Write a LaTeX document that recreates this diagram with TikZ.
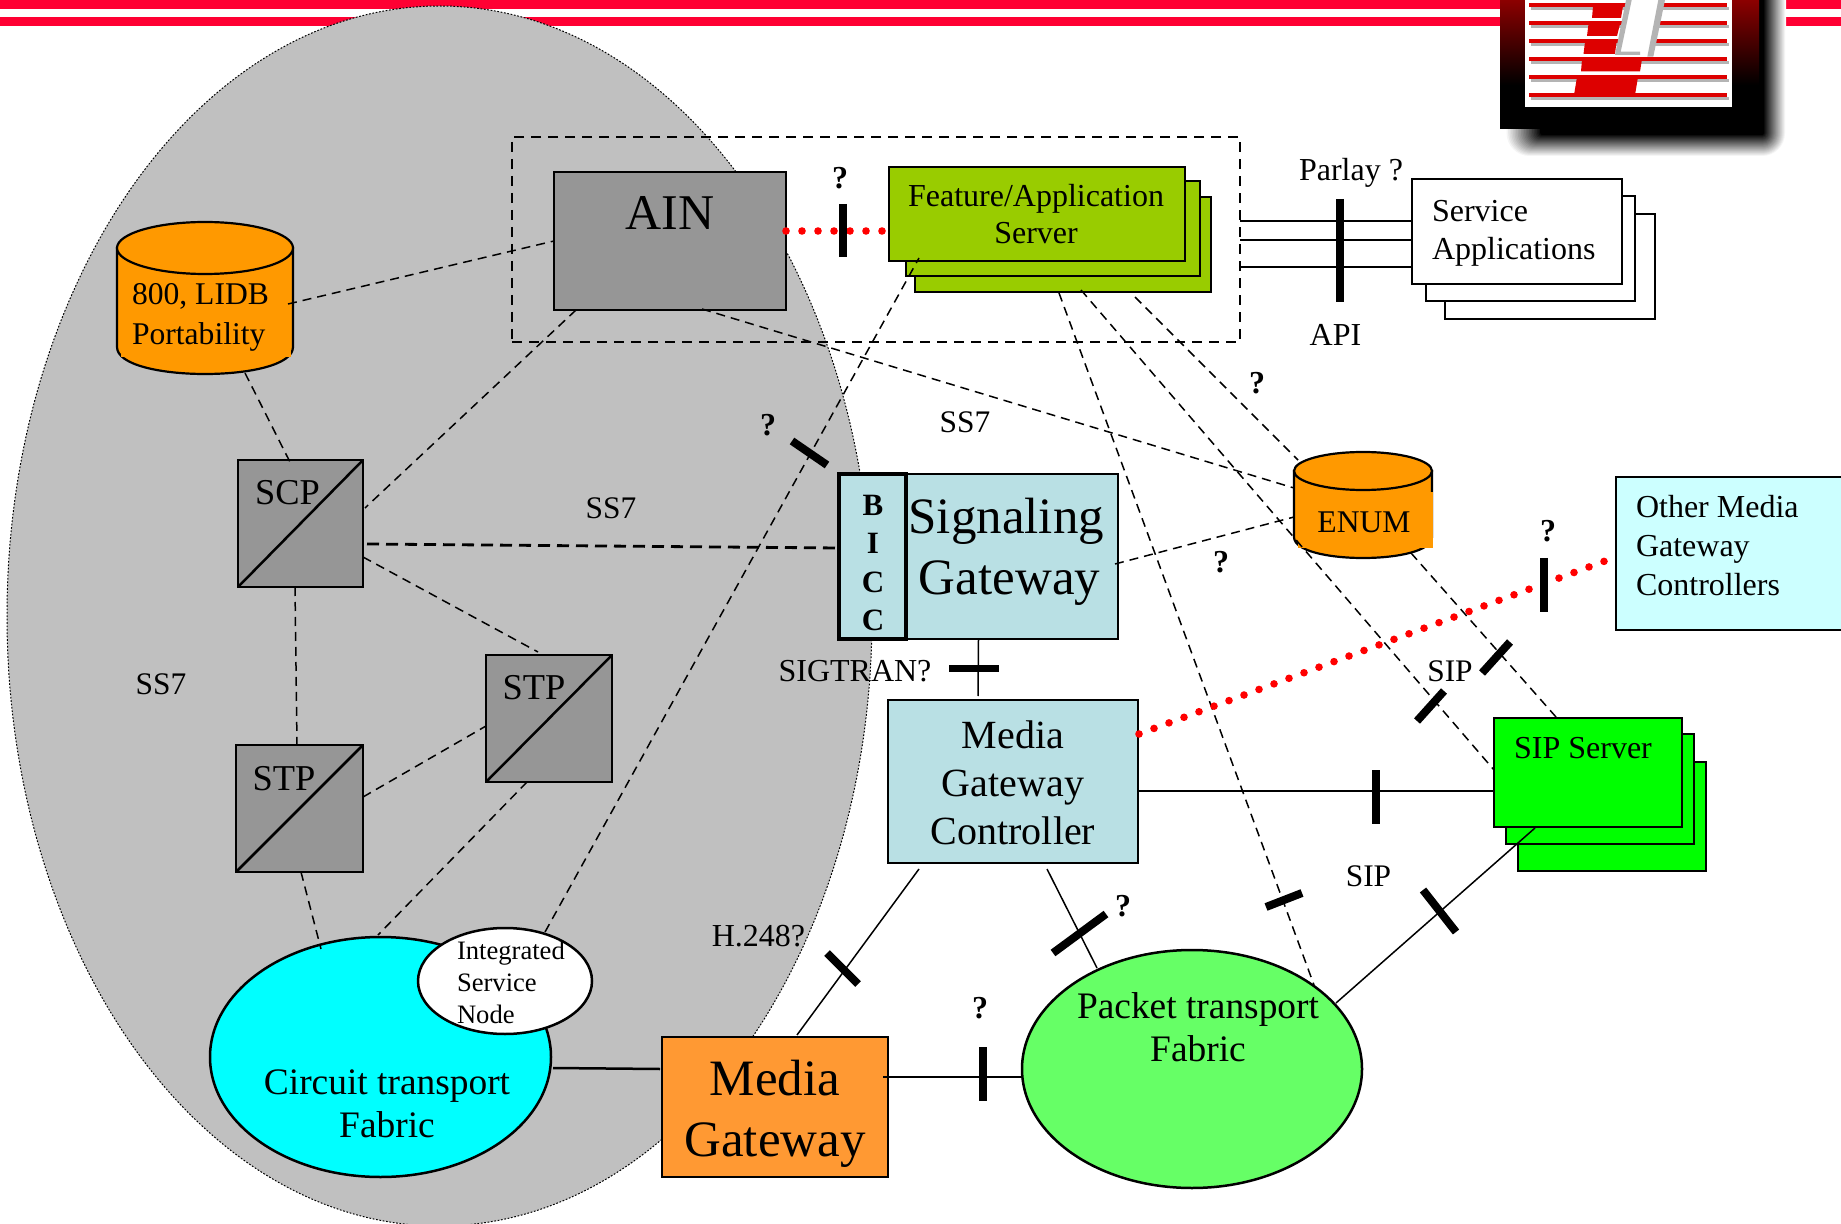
\documentclass[tikz,border=0pt]{standalone}
\usepackage{fontspec}
\setmainfont{Liberation Serif}
\usetikzlibrary{calc,shapes.geometric}
\definecolor{barred}{HTML}{FF0033}
\definecolor{logored}{HTML}{DD0000}
\definecolor{logogrey}{HTML}{B4B4B4}
\definecolor{logodark}{HTML}{8C0000}
\definecolor{cloud}{HTML}{C0C0C0}
\definecolor{ssgrey}{HTML}{969696}
\definecolor{fasgreen}{HTML}{99CC00}
\definecolor{sgblue}{HTML}{B9E0E4}
\definecolor{dborange}{HTML}{FF9900}
\definecolor{mgorange}{HTML}{FF9933}
\definecolor{pktgreen}{HTML}{66FF66}
\definecolor{othercyan}{HTML}{CCFFFF}
\definecolor{purecyan}{HTML}{00FFFF}
\definecolor{puregreen}{HTML}{00FF00}
\definecolor{purered}{HTML}{FF0000}
\tikzset{
  sz/.style n args={2}{minimum width=#1*0.5pt,minimum height=#2*0.5pt,inner sep=0pt,outer sep=0pt},
  boxed/.style={draw=black,line width=1.25pt},
  txt/.style={inner sep=0pt,outer sep=0pt,align=center,text=black},
  txtl/.style={inner sep=0pt,outer sep=0pt,align=left,text=black},
  dl/.style={draw=black,line width=0.75pt,dash pattern=on 4.5pt off 3pt},
  dlthick/.style={draw=black,line width=1.4pt,dash pattern=on 6pt off 3.5pt},
  sl/.style={draw=black,line width=0.75pt},
  slthick/.style={draw=black,line width=1.25pt},
  reddots/.style={draw=purered,line width=3.8pt,line cap=round,dash pattern=on 0pt off 8pt},
  tickbar/.style={draw=black,line width=4pt},
}
\newcommand{\fsz}[2]{\fontsize{#1}{#2}\selectfont}
\begin{document}
\begin{tikzpicture}[x=0.5pt,y=-0.5pt]
\useasboundingbox (0,0) rectangle (1841,1224);
\fill[white] (0,0) rectangle (1841,1224);
% top bars
\fill[barred] (0,0) rectangle (1500,8.7);
\fill[barred] (0,17) rectangle (1500,26);
\fill[barred] (1786,0) rectangle (1841,8.7);
\fill[barred] (1786,17) rectangle (1841,26);
% logo shadow
\foreach \t in {0,...,22}{
  \pgfmathtruncatemacro{\p}{\t*100/22}
  \pgfmathsetmacro{\xa}{1505+\t*1.6}
  \pgfmathsetmacro{\xb}{1786-\t}
  \pgfmathsetmacro{\yb}{157-\t}
  \pgfmathsetmacro{\rr}{(24-\t)*0.5}
  \fill[black!\p!white,rounded corners=\rr pt] (\xa,-40) rectangle (\xb,\yb);
}
% logo
\fill[black] (1500,85) rectangle (1759,129);
\shade[top color=logodark,bottom color=black] (1500,0) rectangle (1759,85);
\fill[white] (1525,0) rectangle (1732,107);
\foreach \y in {5,23,41,59,77,95}{
  \fill[logogrey] (1531,\y+1.6) rectangle (1729,\y+5);
  \fill[logored] (1529,\y-1.6) rectangle (1727,\y+1.6);
}
\fill[logored] (1593,6) -- (1623,6) -- (1621,18) -- (1592,18) -- cycle;
\fill[logored] (1588.5,24) -- (1620,24) -- (1617,36) -- (1587,36) -- cycle;
\fill[logored] (1585,42) -- (1616.5,42) -- (1615,54) -- (1583.5,54) -- cycle;
\fill[logored] (1582,59) -- (1642,59) -- (1640,71.5) -- (1581,71.5) -- cycle;
\fill[logored] (1577,77) -- (1638,77) -- (1635,95) -- (1574,95) -- cycle;
\fill[white] (1629,0) -- (1662,0) -- (1650,57) -- (1617,57) -- cycle;
\fill[logogrey] (1626,0) -- (1631.7,0) -- (1620.7,51.7) -- (1640,51.7) -- (1640,55) -- (1615,55) -- cycle;
\fill[logogrey] (1658.3,0) -- (1665,0) -- (1653.3,56.7) -- (1647.3,56.7) -- cycle;
% grey domain
\node[ellipse,sz={865}{1220},fill=cloud,draw=black,line width=0.5pt,dash pattern=on 0.85pt off 0.85pt] (domain) at (439.5,616) {};
% dashed enclosure
\node[sz={728}{205},draw=black,line width=1pt,dash pattern=on 5pt off 3.5pt] (encl) at (876,239.5) {};
% databases
\node[sz={176}{153}] (lidb) at (205,298.5) {};
\filldraw[fill=dborange,draw=black,line width=1.1pt] (117,248) -- (117,347) .. controls (117,383) and (293,383) .. (293,347) -- (293,248) -- cycle;
\fill[dborange] (121,340) rectangle (291,357);
\filldraw[fill=dborange,draw=black,line width=1.1pt] (lidb.center |- 0,248) ellipse [x radius=88,y radius=26];
\node[sz={138}{106}] (enum) at (1363,505) {};
\filldraw[fill=dborange,draw=black,line width=1.1pt] (1294,471) -- (1294,537) .. controls (1294,565) and (1432,565) .. (1432,537) -- (1432,471) -- cycle;
\filldraw[fill=dborange,draw=black,line width=1.1pt] (enum.center |- 0,471) ellipse [x radius=69,y radius=19];
\fill[dborange] (1298,492) rectangle (1433,548);
% boxes
\node[sz={232}{138},boxed,fill=ssgrey] (ain) at (670,241) {};
\node[sz={296}{95},boxed,fill=fasgreen] (fas3) at (1063,244.5) {};
\node[sz={294}{95},boxed,fill=fasgreen] (fas2) at (1053,228.5) {};
\node[sz={296}{94},boxed,fill=fasgreen] (fas1) at (1037,214) {};
\node[sz={279}{165},boxed,fill=sgblue] (sg) at (978.5,556.5) {};
\node[sz={67}{165},draw=black,line width=1.6pt,fill=sgblue] (bicc) at (872.5,556.5) {};
\node[sz={250}{163},boxed,fill=sgblue] (mgc) at (1013,781.5) {};
\node[sz={226}{140},boxed,fill=mgorange] (mg) at (775,1107) {};
\node[sz={125}{127},boxed,fill=ssgrey] (scp) at (300.5,523.5) {};
\draw[slthick] (scp.south west) -- (scp.north east);
\node[sz={126}{127},boxed,fill=ssgrey] (stpb) at (549,718.5) {};
\draw[slthick] (stpb.south west) -- (stpb.north east);
\node[sz={127}{127},boxed,fill=ssgrey] (stpa) at (299.5,808.5) {};
\draw[slthick] (stpa.south west) -- (stpa.north east);
\node[sz={188}{109},boxed,fill=puregreen] (sip3) at (1612,816.5) {};
\node[sz={188}{110},boxed,fill=puregreen] (sip2) at (1600,789) {};
\node[sz={188}{109},boxed,fill=puregreen] (sip1) at (1588,772.5) {};
\node[sz={244}{153},boxed,fill=othercyan] (other) at (1738,553.5) {};
\node[sz={210}{105},draw=black,line width=1pt,fill=white] (svc3) at (1550,266.5) {};
\node[sz={209}{105},draw=black,line width=1pt,fill=white] (svc2) at (1530.5,248.5) {};
\node[sz={210}{105},draw=black,line width=1pt,fill=white] (svc1) at (1517,231.5) {};
% fabrics
\node[ellipse,sz={341}{240},boxed,fill=purecyan] (circuit) at (380.5,1057) {};
\node[ellipse,sz={174}{106},boxed,fill=white] (isn) at (505,981) {};
\node[ellipse,sz={340}{238},boxed,fill=pktgreen] (packet) at (1192,1069) {};
% dashed connectors
\draw[dl] ($(lidb)+(83,5.5)$) -- (ain.west);
\draw[dl] ($(lidb)+(40,74.5)$) -- ($(scp.north west)+(53,4)$);
\draw[dl] ($(ain.south west)+(22,0)$) -- ($(scp.east)+(2,-15.5)$);
\draw[dl] ($(ain.south)+(32,-1)$) -- ($(enum.west)+(0,-17)$);
\draw[dlthick] ($(scp.east)+(4,20.5)$) -- ($(bicc.west)+(0,-8.5)$);
\draw[dl] ($(scp.east)+(0,33.5)$) -- ($(stpb.north)+(-11,-3)$);
\draw[dl] ($(scp.south)+(-5.5,0)$) -- ($(stpa.north)+(-2.5,0)$);
\draw[dl] ($(stpa.east)+(0,-11.5)$) -- ($(stpb.west)+(0,7.5)$);
\draw[dl] ($(stpa.south)+(1.5,0)$) -- ($(circuit)+(-59.5,-108)$);
\draw[dl] ($(stpb.south)+(-22,0)$) -- ($(circuit)+(-2.5,-122)$);
\draw[dl] ($(isn)+(40,-49)$) -- ($(fas1.south west)+(30,-3)$);
\draw[dl] ($(sg.east)+(-3,7.5)$) -- ($(enum.west)+(0,12)$);
\draw[dl] ($(fas3.south)+(72,5)$) -- ($(enum.west)+(4,-45)$);
\draw[dl] ($(fas3.south)+(-4,1)$) -- ($(packet)+(122,-84)$);
\draw[dl] ($(fas3.south)+(18,-2)$) -- ($(sip1.west)+(0,-2.5)$);
\draw[dl] ($(enum)+(48,48)$) -- ($(sip1.north)+(-32,-1)$);
% solid connectors
\draw[sl] (sg.south) -- ($(mgc.north)+(-35,-4)$);
\draw[sl] ($(mgc.east)+(0,9.5)$) -- ($(sip1.west)+(0,18.5)$);
\draw[sl] ($(mgc.south)+(-94,6)$) -- ($(mg.north)+(22,-2)$);
\draw[sl] ($(mgc.south)+(34,6)$) -- ($(packet)+(-95,-101)$);
\draw[sl] ($(sip1.south)+(-53,1)$) -- ($(packet)+(144,-66)$);
\draw[slthick] ($(circuit.east)+(2,11)$) -- ($(mg.west)+(-2,-38)$);
\draw[slthick] ($(mg.east)+(-5,-30)$) -- ($(packet.west)+(0,8)$);
\draw[draw=black,line width=1pt] ($(encl.east)+(0,-18.5)$) -- ($(svc1.west)+(0,-10.5)$);
\draw[draw=black,line width=1pt] ($(encl.east)+(0,0.5)$) -- ($(svc1.west)+(0,8.5)$);
\draw[draw=black,line width=1pt] ($(encl.east)+(0,27.5)$) -- ($(svc1.west)+(0,35.5)$);
% red dotted links
\draw[reddots] ($(ain.east)+(0,-10)$) -- ($(fas1.west)+(-1,17)$);
\draw[reddots] ($(mgc.east)+(1,-47.5)$) -- ($(other.west)+(-11,7.5)$);
% tick bars
\draw[tickbar] (843,204) -- (843,257);
\draw[tickbar] (1340,199) -- (1340,302);
\draw[tickbar] (792,441) -- (827,465);
\draw[tickbar,line width=3.5pt] (949,668) -- (999,668);
\draw[tickbar] (1544,558) -- (1544,612);
\draw[tickbar] (1482,673) -- (1510,642);
\draw[tickbar] (1417,721) -- (1444,691);
\draw[tickbar] (1376,770) -- (1376,824);
\draw[tickbar] (827,953) -- (858,984);
\draw[tickbar] (1053,953) -- (1106,914);
\draw[tickbar] (1266,907) -- (1302,893);
\draw[tickbar] (1423,890) -- (1456,932);
\draw[tickbar] (983,1047) -- (983,1101);
% texts in boxes
\node[txt,font=\fsz{25}{30}] (tain) at (670,213) {AIN};
\node[txt,font=\fsz{16}{18.5}] (tfas) at (1036,214.5) {Feature/Application\\Server};
\node[txt,font=\fsz{25.5}{30.5}] (tsg) at (1006.3,551.5) {Signaling\hspace{3.2pt}\\\hspace{3.2pt}Gateway};
\node[txt,font=\bfseries\fsz{15.5}{19.15}] (tbicc) at (873,563) {B\\I\\C\\C};
\node[txt,font=\fsz{20}{24}] (tmgc) at (1013,783) {Media\\Gateway\\Controller};
\node[txt,font=\fsz{25.5}{30.5}] (tmg) at (775,1113.5) {Media\\Gateway};
\node[txt,font=\fsz{18.2}{18.5}] (tscp) at (287.5,493) {SCP};
\node[txt,font=\fsz{18.2}{18.5}] (tstpb) at (534,688) {STP};
\node[txt,font=\fsz{18.2}{18.5}] (tstpa) at (284,779) {STP};
\node[txtl,font=\fsz{15.8}{20},anchor=west] (tlidb) at (132,317.5) {800, LIDB\\Portability};
\node[txt,font=\fsz{15.8}{19}] (tenum) at (1364,522) {ENUM};
\node[txt,font=\fsz{18.7}{21.5}] (tcircuit) at (387,1103.5) {Circuit transport\\Fabric};
\node[txtl,font=\fsz{13.3}{16},anchor=west] (tisn) at (457,982.3) {Integrated\\Service\\Node};
\node[txt,font=\fsz{18.7}{21.5}] (tpacket) at (1198,1027) {Packet transport\\Fabric};
\node[txt,font=\fsz{16}{18.5}] (tsip) at (1583,748) {SIP Server};
\node[txtl,font=\fsz{16}{19.5},anchor=west] (tother) at (1636,546) {Other Media\\Gateway\\Controllers};
\node[txtl,font=\fsz{16}{19},anchor=west] (tsvc) at (1432,233) {Service\\Applications};
% labels
\node[txt,font=\fsz{15.7}{18}] (lss1) at (965,422.5) {SS7};
\node[txt,font=\fsz{15.7}{18}] (lss2) at (611,508) {SS7};
\node[txt,font=\fsz{15.7}{18}] (lss3) at (161,684) {SS7};
\node[txt,font=\fsz{16}{18}] (lsig) at (855,671.5) {SIGTRAN?};
\node[txt,font=\fsz{15.7}{18}] (lsip1) at (1450,671) {SIP};
\node[txt,font=\fsz{15.7}{18}] (lsip2) at (1368.5,876) {SIP};
\node[txt,font=\fsz{16}{18}] (lh) at (758.5,936) {H.248?};
\node[txt,font=\fsz{16}{18}] (lparlay) at (1351,172.5) {Parlay ?};
\node[txt,font=\fsz{16}{18}] (lapi) at (1335.5,334.5) {API};
\foreach \n/\x/\y in {q1/840/178,q2/768/425,q3/1221/562,q4/1257/383,q5/1548/531,q6/1123/906,q7/980/1008}{
  \node[txt,font=\bfseries\fsz{16}{18}] (\n) at (\x,\y) {?};
}
\end{tikzpicture}
\end{document}
